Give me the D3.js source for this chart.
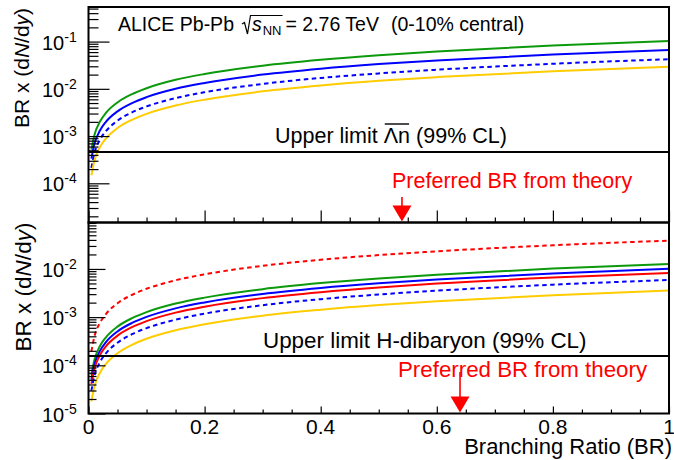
<!DOCTYPE html>
<html>
<head>
<meta charset="utf-8">
<title>BR x dN/dy upper limits</title>
<script src="https://cdn.jsdelivr.net/npm/d3@7/dist/d3.min.js"></script>
<style>
  body { margin: 0; background: #fff; }
  svg text { font-family: "Liberation Sans", Arial, Helvetica, sans-serif; fill: #000; white-space: pre; }
</style>
</head>
<body>
<div id="chart"></div>
<script>
// branching ratio sample points, shared by every curve
var br = [0.005, 0.01, 0.02, 0.03, 0.05, 0.075, 0.1, 0.15, 0.2, 0.3, 0.4, 0.5, 0.6, 0.8, 1.0];

// upper panel, anti-Lambda n : BR x dN/dy
var lamGreen  = [5.15e-4, 1.03e-3, 2.06e-3, 3.09e-3, 5.15e-3, 7.73e-3, 0.0103, 0.0155, 0.0206, 0.0309, 0.0412, 0.0515, 0.0618, 0.0824, 0.103];
var lamBlue   = [3.34e-4, 6.67e-4, 1.33e-3, 2.0e-3, 3.34e-3, 5.0e-3, 6.67e-3, 0.010, 0.0133, 0.020, 0.0267, 0.0334, 0.040, 0.0534, 0.0667];
var lamBlueD  = [2.12e-4, 4.24e-4, 8.48e-4, 1.27e-3, 2.12e-3, 3.18e-3, 4.24e-3, 6.36e-3, 8.48e-3, 0.0127, 0.0170, 0.0212, 0.0254, 0.0339, 0.0424];
var lamYellow = [1.48e-4, 2.95e-4, 5.9e-4, 8.85e-4, 1.48e-3, 2.21e-3, 2.95e-3, 4.43e-3, 5.9e-3, 8.85e-3, 0.0118, 0.0148, 0.0177, 0.0236, 0.0295];

// lower panel, H-dibaryon
var hRedD   = [1.94e-4, 3.87e-4, 7.74e-4, 1.16e-3, 1.94e-3, 2.9e-3, 3.87e-3, 5.81e-3, 7.74e-3, 0.0116, 0.0155, 0.0194, 0.0232, 0.031, 0.0387];
var hGreen  = [6.35e-5, 1.27e-4, 2.54e-4, 3.81e-4, 6.35e-4, 9.53e-4, 1.27e-3, 1.91e-3, 2.54e-3, 3.81e-3, 5.08e-3, 6.35e-3, 7.62e-3, 0.0102, 0.0127];
var hBlue   = [5.05e-5, 1.01e-4, 2.02e-4, 3.03e-4, 5.05e-4, 7.58e-4, 1.01e-3, 1.52e-3, 2.02e-3, 3.03e-3, 4.04e-3, 5.05e-3, 6.06e-3, 8.08e-3, 0.0101];
var hRed    = [4.13e-5, 8.26e-5, 1.65e-4, 2.48e-4, 4.13e-4, 6.2e-4, 8.26e-4, 1.24e-3, 1.65e-3, 2.48e-3, 3.3e-3, 4.13e-3, 4.96e-3, 6.61e-3, 8.26e-3];
var hBlueD  = [2.95e-5, 5.9e-5, 1.18e-4, 1.77e-4, 2.95e-4, 4.43e-4, 5.9e-4, 8.85e-4, 1.18e-3, 1.77e-3, 2.36e-3, 2.95e-3, 3.54e-3, 4.72e-3, 5.9e-3];
var hYellow = [1.78e-5, 3.55e-5, 7.1e-5, 1.07e-4, 1.78e-4, 2.66e-4, 3.55e-4, 5.33e-4, 7.1e-4, 1.07e-3, 1.42e-3, 1.78e-3, 2.13e-3, 2.84e-3, 3.55e-3];

// upper limits (99% CL), preferred BR from theory
var limits = [4.6e-4, 1.56e-4];
var prefBR = [0.54, 0.64];

// axes
var xTicks = [0, 0.2, 0.4, 0.6, 0.8, 1];
var xTickLabels = ["0", "0.2", "0.4", "0.6", "0.8", "1"];
var topYDomain = [1.48e-5, 0.54];
var botYDomain = [1e-5, 0.092];
var topYTicks = [1e-1, 1e-2, 1e-3, 1e-4];
var botYTicks = [1e-2, 1e-3, 1e-4, 1e-5];
var topYLabels = ["-1", "-2", "-3", "-4"];
var botYLabels = ["-2", "-3", "-4", "-5"];

var GREEN = "#0c990c", BLUE = "#0000ff", RED = "#ff0000", YELLOW = "#ffcc00";

var svg = d3.select("#chart").append("svg")
    .attr("width", 674).attr("height", 460);

var x = d3.scaleLinear().domain([0, 1]).range([88.5, 669]);

// write a row of text pieces one after another, return their x extents
function textRow(g, x0, y0, parts) {
  var cx = x0, out = [];
  parts.forEach(function(p) {
    cx += p.dx || 0;
    var t = g.append("text").attr("x", cx).attr("y", y0 + (p.dy || 0))
      .style("font-size", p.size + "px")
      .text(p.t);
    if (p.italic) t.style("font-style", "italic");
    if (p.color) t.style("fill", p.color);
    var w = t.node().getComputedTextLength();
    out.push([cx, cx + w]);
    cx += w;
  });
  return out;
}

function drawPanel(p) {
  var y = d3.scaleLog().domain(p.domain).range([p.y1, p.y0]);
  var g = svg.append("g");

  var line = d3.line()
    .x(function(d) { return x(d.b); })
    .y(function(d) { return y(d.v); })
    .curve(d3.curveMonotoneX);

  p.series.forEach(function(s) {
    var pts = br.map(function(b, i) { return {b: b, v: s.vals[i]}; });
    g.append("path").datum(pts)
      .attr("d", line)
      .attr("fill", "none")
      .attr("stroke", s.color)
      .attr("stroke-width", 2)
      .attr("stroke-dasharray", s.dash ? "4.5,3.5" : null);
  });

  // upper limit line
  g.append("line")
    .attr("x1", x(0)).attr("x2", x(1))
    .attr("y1", y(p.limit)).attr("y2", y(p.limit))
    .attr("stroke", "#000").attr("stroke-width", 2);

  // y axis ticks, inside
  var minorY = y.ticks().filter(function(v) { return p.yTicks.indexOf(v) < 0; });
  [[p.yTicks, p.yMajor], [minorY, p.yMinor]].forEach(function(a) {
    var ax = g.append("g").attr("transform", "translate(" + x(0) + ",0)")
      .call(d3.axisRight(y).tickValues(a[0]).tickSize(a[1]).tickSizeOuter(0).tickFormat(""));
    ax.select(".domain").remove();
    ax.selectAll("line").attr("stroke", "#000").attr("stroke-width", 1.2);
  });

  // x axis ticks, inside
  var minorX = d3.range(0.05, 1, 0.05).filter(function(v) {
    return Math.abs(v * 5 - Math.round(v * 5)) > 1e-6;
  });
  [[xTicks, p.xMajor], [minorX, p.xMinor]].forEach(function(a) {
    var ax = g.append("g").attr("transform", "translate(0," + p.y1 + ")")
      .call(d3.axisTop(x).tickValues(a[0]).tickSize(a[1]).tickSizeOuter(0).tickFormat(""));
    ax.select(".domain").remove();
    ax.selectAll("line").attr("stroke", "#000").attr("stroke-width", 1.2);
  });

  // frame
  g.append("rect")
    .attr("x", x(0)).attr("y", p.y0)
    .attr("width", x(1) - x(0)).attr("height", p.y1 - p.y0)
    .attr("fill", "none").attr("stroke", "#000").attr("stroke-width", 2);

  // y tick labels 10^n
  p.yTicks.forEach(function(v, i) {
    var t = g.append("text").attr("x", 42).attr("y", y(v) + 8);
    t.append("tspan").style("font-size", "20px").text("10");
    t.append("tspan").attr("dy", -8).style("font-size", "14px").text(p.yLabels[i]);
  });

  // y title
  var tt = g.append("text")
    .attr("transform", "translate(" + p.titleX + "," + p.titleY + ") rotate(-90)")
    .attr("text-anchor", "middle")
    .style("font-size", p.titleSize + "px");
  tt.append("tspan").text("BR x (d");
  tt.append("tspan").style("font-style", "italic").text("N");
  tt.append("tspan").text("/d");
  tt.append("tspan").style("font-style", "italic").text("y");
  tt.append("tspan").text(")");

  // limit label
  var parts = textRow(g, p.limX, p.limY, p.limParts);
  if (p.overline != null) {
    var o = parts[p.overline];
    g.append("line").attr("x1", o[0] + 1).attr("x2", o[1] - 1)
      .attr("y1", p.limY - 19).attr("y2", p.limY - 19)
      .attr("stroke", "#000").attr("stroke-width", 1.4);
  }

  // preferred BR arrow
  textRow(g, p.prefX, p.prefY, [{t: "Preferred BR from theory", size: p.prefSize, color: RED}]);
  var xa = x(p.pref), tip = p.y1 - 1, head = tip - 16;
  g.append("line").attr("x1", xa).attr("x2", xa).attr("y1", p.shaftY).attr("y2", head + 1)
    .attr("stroke", RED).attr("stroke-width", 1.6);
  g.append("path")
    .attr("d", "M" + (xa - 9.5) + "," + head + "L" + (xa + 9.5) + "," + head + "L" + xa + "," + tip + "Z")
    .attr("fill", RED);

  return y;
}

drawPanel({
  domain: topYDomain, y0: 7, y1: 222.5,
  yTicks: topYTicks, yLabels: topYLabels, yMajor: 21, yMinor: 10, xMajor: 12, xMinor: 5,
  series: [
    {vals: lamGreen, color: GREEN},
    {vals: lamBlue, color: BLUE},
    {vals: lamBlueD, color: BLUE, dash: true},
    {vals: lamYellow, color: YELLOW}
  ],
  limit: limits[0], pref: prefBR[0],
  titleX: 29, titleY: 68, titleSize: 21,
  limX: 275, limY: 143,
  limParts: [{t: "Upper limit", size: 21.5}, {t: "\u039Bn", size: 21.5, dx: 6}, {t: "(99% CL)", size: 21.5, dx: 6}],
  overline: 1,
  prefX: 392, prefY: 188, prefSize: 21.5, shaftY: 197
});

drawPanel({
  domain: botYDomain, y0: 222.5, y1: 413.5,
  yTicks: botYTicks, yLabels: botYLabels, yMajor: 17, yMinor: 8, xMajor: 7, xMinor: 4,
  series: [
    {vals: hRedD, color: RED, dash: true},
    {vals: hGreen, color: GREEN},
    {vals: hBlue, color: BLUE},
    {vals: hRed, color: RED},
    {vals: hBlueD, color: BLUE, dash: true},
    {vals: hYellow, color: YELLOW}
  ],
  limit: limits[1], pref: prefBR[1],
  titleX: 31, titleY: 287, titleSize: 22.5,
  limX: 263, limY: 348,
  limParts: [{t: "Upper limit H-dibaryon (99% CL)", size: 22.4}],
  overline: null,
  prefX: 398, prefY: 377, prefSize: 22.3, shaftY: 372
});

// x tick labels, bottom panel only
svg.append("g").selectAll("text").data(xTicks).enter().append("text")
  .attr("x", function(d) { return x(d); })
  .attr("y", 434)
  .attr("text-anchor", "middle")
  .style("font-size", "21px")
  .text(function(d, i) { return xTickLabels[i]; });

svg.append("text")
  .attr("x", 672).attr("y", 454)
  .attr("text-anchor", "end")
  .style("font-size", "22px")
  .text("Branching Ratio (BR)");

// header: ALICE Pb-Pb sqrt(s_NN) = 2.76 TeV (0-10% central)
var hdr = svg.append("g");
var hp = textRow(hdr, 118, 31, [
  {t: "ALICE Pb-Pb", size: 19.5},
  {t: "s", size: 19.5, italic: true, dx: 18},
  {t: "NN", size: 13, dy: 4, dx: 1},
  {t: "= 2.76 TeV", size: 19.5, dx: 4},
  {t: "(0-10% central)", size: 19.5, dx: 12}
]);
var rx = hp[1][0] - 10;
hdr.append("path")
  .attr("d", "M" + rx + ",24 L" + (rx + 2.5) + ",22.5 L" + (rx + 5.5) + ",34 L" + (rx + 8.5) + ",15.5 L" + (hp[2][1] + 1) + ",15.5")
  .attr("fill", "none").attr("stroke", "#000").attr("stroke-width", 1.2);
</script>
</body>
</html>
